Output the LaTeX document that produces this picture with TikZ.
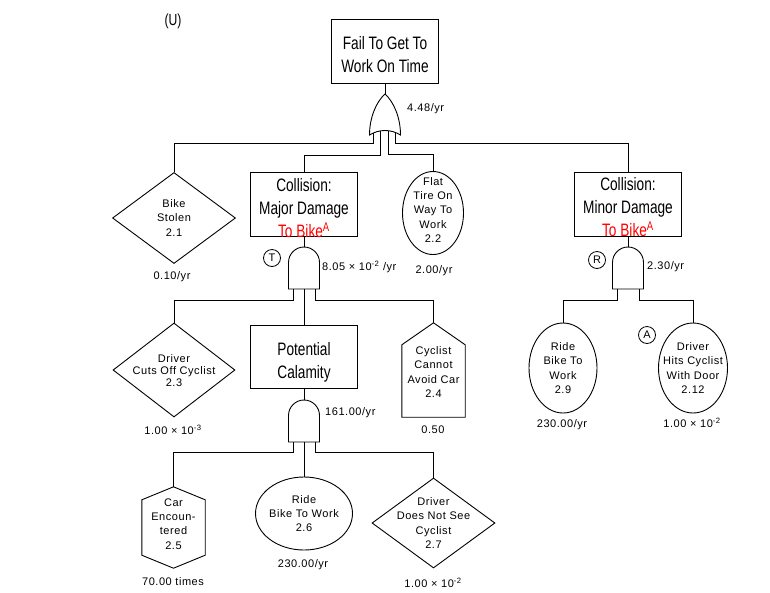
\documentclass[tikz,border=0pt]{standalone}
\usepackage{fontspec}
\setmainfont{Liberation Sans}
\newfontfamily\narrowfont[FakeStretch=0.76]{Liberation Sans}
\newfontfamily\spacedfont[LetterSpace=5]{Liberation Sans}
\usetikzlibrary{shapes.geometric}

\tikzset{
  link/.style={line width=0.9pt},
  gatebody/.style={draw, line width=0.9pt, fill=white},
  eventbox/.style={draw, line width=0.9pt, rectangle, inner sep=0pt, minimum width=107pt, minimum height=64pt},
  boxtext/.style={align=center, inner sep=0pt, font=\narrowfont\fontsize{18}{23}\selectfont},
  evtext/.style={align=center, inner sep=0pt, font=\spacedfont\fontsize{11}{14.2}\selectfont},
  basic/.style={draw, line width=0.9pt, ellipse, inner sep=0pt},
  undeveloped/.style={draw, line width=0.9pt, diamond, inner sep=0pt},
  bodybox/.style={rectangle, inner sep=0pt, minimum width=63pt},
  outline/.style={line width=0.9pt},
  rate/.style={inner sep=0pt, font=\spacedfont\fontsize{11}{13}\selectfont},
  marker/.style={draw, line width=0.8pt, circle, minimum size=17pt, inner sep=0pt, font=\fontsize{11}{13}\selectfont},
  andgate/.pic={
    \draw[gatebody] (-15.5,42) -- (-15.5,15.5) arc[start angle=180, end angle=360, radius=15.5] -- (15.5,42) -- cycle;
    \coordinate (-out) at (0,0);
    \coordinate (-a) at (-11,42);
    \coordinate (-b) at (0,42);
    \coordinate (-c) at (11,42);
  },
  orgate/.pic={
    \draw[gatebody] (0,0) .. controls (9,8) and (15.5,24) .. (15.5,41)
      .. controls (6,35) and (-6,35) .. (-15.5,41)
      .. controls (-15.5,24) and (-9,8) .. (0,0) -- cycle;
    \coordinate (-out) at (0,0);
    \coordinate (-a) at (-12,39);
    \coordinate (-b) at (-5,37);
    \coordinate (-c) at (3,36.7);
    \coordinate (-d) at (10,38);
  },
}

\begin{document}
\begin{tikzpicture}[x=1pt, y=-1pt]
        \useasboundingbox (0,0) rectangle (770,592);
        \node[font=\narrowfont\fontsize{16}{16}\selectfont] (classif) at (173,21) {(U)};

        % Top event and its OR gate
        \node[eventbox, label={[boxtext, yshift=-4pt]center:{Fail To Get To\\Work On Time}}] (top) at (385,51) {};
        \pic (g0) at (385,94) {orgate};
        \node[rate, anchor=west] at (407,109) {4.48/yr};

        % First level
        \node[undeveloped, minimum width=123pt, minimum height=91pt,
          label={[evtext]center:{Bike\\Stolen\\2.1}}] (stolen) at (174,218) {};
        \node[rate] at (172,277) {0.10/yr};

        \node[eventbox, label={[boxtext, yshift=-3.5pt]center:{Collision:\\Major Damage\\\textcolor{red}{To Bike\textsuperscript{A}}}}] (major) at (304,204.5) {};

        \node[basic, minimum width=61pt, minimum height=83pt,
          label={[evtext, yshift=3pt]center:{Flat\\Tire On\\Way To\\Work\\2.2}}] (flat) at (433,213) {};
        \node[rate] at (434,271) {2.00/yr};

        \node[eventbox, label={[boxtext, yshift=-3.5pt]center:{Collision:\\Minor Damage\\\textcolor{red}{To Bike\textsuperscript{A}}}}] (minor) at (628,204) {};

        % Major damage branch
        \pic (g1) at (304,247) {andgate};
        \node[marker] (markT) at (272,258) {T};
        \node[rate, anchor=west] at (322,267) {8.05 × 10\textsuperscript{-2} /yr};

        \node[undeveloped, minimum width=122pt, minimum height=94pt,
          label={[evtext, font=\spacedfont\fontsize{11}{12}\selectfont, yshift=-1pt]center:{Driver\\Cuts Off Cyclist\\2.3}}] (cutsoff) at (174,370) {};
        \node[rate] at (173,430) {1.00 × 10\textsuperscript{-3}};

        \node[eventbox, minimum height=63pt, label={[boxtext, yshift=-6pt]center:{Potential\\Calamity}}] (calamity) at (304,356.5) {};

        \node[bodybox, minimum height=72pt,
          label={[evtext, yshift=9pt]center:{Cyclist\\Cannot\\Avoid Car\\2.4}}] (cyclist) at (433.5,381) {};
        \draw[outline] (cyclist.south west) -- (cyclist.north west) -- ([yshift=22pt]cyclist.north) coordinate (cyclist-top)
          -- (cyclist.north east) -- (cyclist.south east) -- cycle;
        \node[rate] at (433,430) {0.50};

        % Potential calamity gate
        \pic (g2) at (304,400) {andgate};
        \node[rate, anchor=west] at (325,413) {161.00/yr};

        \node[bodybox, minimum height=55pt,
          label={[evtext, yshift=3.5pt]center:{Car\\Encoun-\\tered\\2.5}}] (carenc) at (173.5,527.5) {};
        \draw[outline] (carenc.north west) -- ([yshift=13pt]carenc.north) coordinate (carenc-top) -- (carenc.north east)
          -- (carenc.south east) -- ([yshift=-13pt]carenc.south) -- (carenc.south west) -- cycle;
        \node[rate] at (173,582) {70.00 times};

        \node[basic, minimum width=97pt, minimum height=73pt,
          label={[evtext]center:{Ride\\Bike To Work\\2.6}}] (ride26) at (304,513.5) {};
        \node[rate] at (303,565) {230.00/yr};

        \node[undeveloped, minimum width=123pt, minimum height=90pt,
          label={[evtext]center:{Driver\\Does Not See\\Cyclist\\2.7}}] (notsee) at (433.5,523) {};
        \node[rate] at (433,583) {1.00 × 10\textsuperscript{-2}};

        % Minor damage branch
        \pic (g3) at (628,247) {andgate};
        \node[marker] (markR) at (597,260) {R};
        \node[rate, anchor=west] at (647,267) {2.30/yr};

        \node[basic, minimum width=68pt, minimum height=90pt,
          label={[evtext]center:{Ride\\Bike To\\Work\\2.9}}] (ride29) at (563,368) {};
        \node[rate] at (562,425) {230.00/yr};

        \node[basic, minimum width=69pt, minimum height=90pt,
          label={[evtext]center:{Driver\\Hits Cyclist\\With Door\\2.12}}] (door) at (693,368) {};
        \node[marker] (markA) at (647,335) {A};
        \node[rate] at (692,423) {1.00 × 10\textsuperscript{-2}};

        % Connectors
        \draw[link] (top.south) -- (g0-out);
        \draw[link] (g0-a) -- ++(0,10) -| (stolen.north);
        \draw[link] (g0-b) -- ++(0,24) -| (major.north);
        \draw[link] (g0-c) -- ++(0,24) -| (flat.north);
        \draw[link] (g0-d) -- ++(0,11) -| (minor.north);

        \draw[link] (major.south) -- (g1-out);
        \draw[link] (g1-a) -- ++(0,11) -| (cutsoff.north);
        \draw[link] (g1-b) -- (calamity.north);
        \draw[link] (g1-c) -- ++(0,11) -| (cyclist-top);

        \draw[link] (calamity.south) -- (g2-out);
        \draw[link] (g2-a) -- ++(0,10) -| (carenc-top);
        \draw[link] (g2-b) -- (ride26.north);
        \draw[link] (g2-c) -- ++(0,10) -| (notsee.north);

        \draw[link] (minor.south) -- (g3-out);
        \draw[link] (g3-a) -- ++(0,11) -| (ride29.north);
        \draw[link] (g3-c) -- ++(0,11) -| (door.north);
\end{tikzpicture}
\end{document}
